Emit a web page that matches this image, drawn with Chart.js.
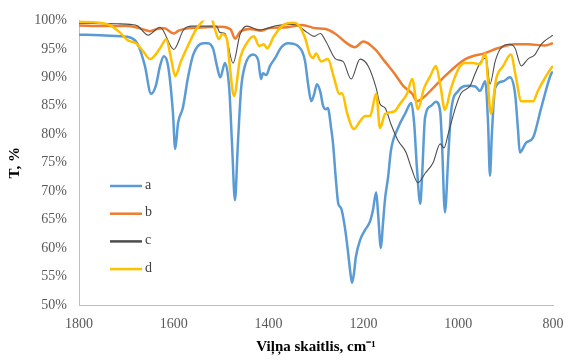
<!DOCTYPE html>
<html><head><meta charset="utf-8">
<script src="https://cdn.jsdelivr.net/npm/chart.js@4/dist/chart.umd.min.js"></script>
<style>html,body{margin:0;padding:0;background:#fff}#wrap{width:565px;height:360px}</style>
</head><body><div id="wrap"><canvas id="c"></canvas></div>
<script>
const seriesNames = ['a','b','c','d'];
const seriesColors = ['#5B9BD5','#ED7D31','#4d4d4d','#FFC000'];
const xTicks = [1800,1600,1400,1200,1000,800];
const yTicks = [50,55,60,65,70,75,80,85,90,95,100];

const aWave = [1800,1756,1711,1692,1676,1661,1648,1638,1629,1621,1612,1602,1597,1591,1581,1570,1559,1538,1528,1517,1509,1502,1492,1483,1477,1471,1465,1458,1450,1433,1422,1416,1412,1405,1397,1386,1374,1359,1348,1338,1329,1323,1317,1310,1304,1298,1291,1285,1279,1275,1268,1264,1258,1253,1247,1239,1232,1228,1224,1220,1216,1207,1197,1186,1180,1173,1169,1163,1159,1154,1148,1142,1127,1112,1099,1093,1087,1080,1076,1070,1057,1047,1038,1034,1028,1021,1015,1000,979,964,954,943,937,933,929,922,905,891,880,874,870,857,842,825,804,800];
const aT = [97.5,97.4,97.2,97.0,95.8,92,87.1,88.5,92,93.7,92,84,77.4,82,84.6,90,94,96,96,95,92,90,92.5,88,78,68.4,78,88,92,94,93,89.7,90.7,90.4,92,93.4,95.2,96,95.9,95.5,94.5,92.8,89,85.8,87,88.8,87.5,85,84.4,84.6,81,78.3,72,67.8,67,63.6,59,56,53.9,55.5,58.4,61.4,63.1,64.7,66.6,69.8,66,60,64,68.9,72.4,77.1,81.1,83.6,85.5,82,74,67.8,73,82.9,85,85.7,84,78,66.3,76,84,87.6,88.5,88.4,87.6,89.3,82,72.7,80,88.1,89.3,90,87.1,81,76.8,78.5,79.4,84.6,90.6,91];

const bWave = [1800,1750,1700,1680,1660,1650,1635,1620,1600,1590,1570,1530,1500,1480,1471,1460,1440,1415,1400,1360,1330,1300,1280,1260,1235,1218,1200,1175,1155,1133,1116,1097,1087,1070,1053,1028,1000,985,970,945,917,880,853,817,800];
const bT = [99.1,99.0,99.0,98.8,98.3,98.1,98.5,98.6,97.7,98.2,98.6,98.8,98.9,98.4,96.8,98.0,98.5,98.2,98.6,98.8,99.2,98.6,98.5,97.7,96.0,95.3,96.3,94.9,92.8,90.5,88.5,87.1,85.8,86.7,88.1,90.2,92.3,93.2,93.7,94.2,95.1,95.8,95.8,95.6,96.0];

const cWave = [1800,1720,1692,1676,1654,1629,1600,1579,1562,1510,1503,1492,1475,1460,1446,1420,1403,1382,1346,1319,1304,1291,1279,1258,1243,1226,1207,1190,1173,1165,1154,1142,1127,1110,1099,1085,1070,1053,1038,1030,1021,1006,994,975,964,952,941,933,922,912,891,880,867,853,838,825,804,800];
const cT = [99.5,99.4,99.3,99.0,97.4,98.8,94.9,98.4,99.0,99.0,97.9,97.7,92.5,97.6,99.0,98.3,98.6,99.1,99.3,97.9,97.2,97.7,96.3,93.2,92.8,89.7,93.2,92.0,88.1,85.3,84.6,81.8,78.9,76.8,74.1,71.5,73.1,75.0,78.3,77.6,80.1,84.6,87.2,88.5,90.7,92.8,93.4,88.8,92.8,94.9,95.8,95.1,92.0,93.2,94.0,95.8,97.2,97.4];

const dWave = [1800,1739,1714,1697,1680,1665,1650,1629,1616,1606,1597,1585,1566,1553,1540,1530,1520,1513,1505,1498,1488,1482,1473,1460,1446,1431,1420,1410,1403,1389,1367,1350,1340,1323,1313,1306,1300,1289,1275,1262,1251,1245,1234,1220,1207,1196,1186,1173,1165,1154,1135,1123,1108,1097,1085,1072,1059,1047,1038,1028,1015,1000,986,969,954,943,931,920,905,889,878,867,842,832,804,800];
const dT = [99.8,99.3,97.9,96.5,96.0,94.6,93.2,95.1,96.7,93.4,90.2,92.8,96.3,98.4,99.8,100.6,100.3,98.4,96.7,97.6,96.7,92,86.7,93.4,96.0,97.2,95.5,95.8,95.1,97.2,99.3,99.6,99.4,96.9,94.0,93.4,94.2,92.8,93.2,89.9,87.1,87.2,83.6,80.9,82.3,83.2,83.2,87.1,81.1,83.6,84.0,85.3,87.1,89.7,84.4,88.1,90.2,92.0,88.8,84.3,88.1,91.4,92.5,92.5,92.3,94.2,83.6,89.7,92.0,94.0,89.9,85.8,85.8,87.6,91.6,92];

const waves = [aWave,bWave,cWave,dWave];
const trans = [aT,bT,cT,dT];
const widths = [2.5,2.5,1.1,2.5];

const datasets = seriesNames.map((n,i)=>({
  label:n,
  data: waves[i].map((w,k)=>({x:w,y:trans[i][k]})),
  borderColor: seriesColors[i],
  backgroundColor: seriesColors[i],
  borderWidth: widths[i],
  pointRadius:0,
  cubicInterpolationMode:'monotone',
  fill:false,
  order: 4-i
}));

const legendPlugin = {
  id:'inlineLegend',
  afterDatasetsDraw(chart){
    const ctx = chart.ctx;
    ctx.save();
    ctx.font = '14px "Liberation Serif"';
    ctx.textBaseline = 'middle';
    ctx.textAlign = 'left';
    chart.data.datasets.forEach((ds,i)=>{
      const y = 186 + i*27.7;
      ctx.strokeStyle = ds.borderColor;
      ctx.lineWidth = 2.5;
      ctx.beginPath(); ctx.moveTo(110,y); ctx.lineTo(142,y); ctx.stroke();
      ctx.fillStyle = '#404040';
      ctx.fillText(ds.label,145,y-1);
    });
    ctx.restore();
  }
};

new Chart(document.getElementById('c'),{
  type:'line',
  data:{datasets},
  options:{
    responsive:true, maintainAspectRatio:false, animation:false,
    layout:{padding:{left:0,right:12,top:19,bottom:0}},
    plugins:{legend:{display:false},tooltip:{enabled:false}},
    scales:{
      x:{type:'linear',reverse:true,min:800,max:1800,
        afterBuildTicks:s=>{s.ticks = xTicks.map(v=>({value:v}));},
        afterFit:s=>{s.height=55; s.paddingRight=0; s.paddingLeft=0;},
        grid:{display:true,color:'rgba(0,0,0,0)',drawTicks:false},
        border:{display:true,color:'#bfbfbf',width:1},
        ticks:{padding:11,color:'#595959',font:{family:'"Liberation Serif"',size:14},maxRotation:0,callback:v=>String(v)},
        title:{display:true,text:'Viļņa skaitlis, cm⁻¹',color:'#000',font:{family:'"Liberation Serif"',size:15,weight:'bold'},padding:{top:0,bottom:4}}
      },
      y:{min:50,max:100,
        afterBuildTicks:s=>{s.ticks = yTicks.map(v=>({value:v}));},
        afterFit:s=>{s.width=79;},
        grid:{display:true,color:'rgba(0,0,0,0)',drawTicks:false},
        border:{display:true,color:'#bfbfbf',width:1},
        ticks:{padding:12,color:'#595959',font:{family:'"Liberation Serif"',size:14},callback:v=>v+'%'},
        title:{display:true,text:'T, %',color:'#000',font:{family:'"Liberation Serif"',size:15,weight:'bold'},padding:{top:6,bottom:0}}
      }
    }
  },
  plugins:[legendPlugin]
});
</script></body></html>
